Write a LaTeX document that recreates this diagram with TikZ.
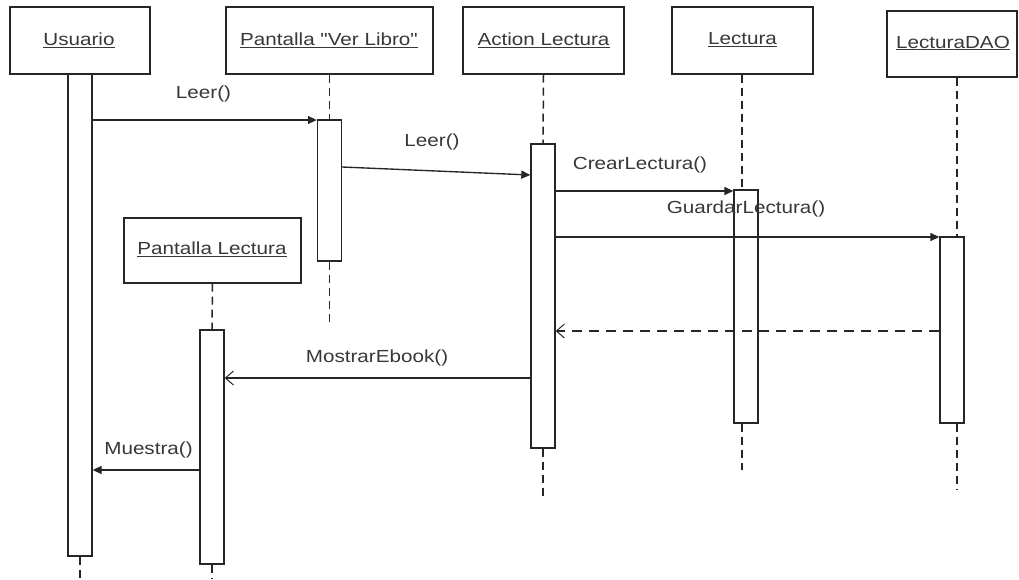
\documentclass[tikz,border=0pt]{standalone}
\usepackage{fontspec}
\setmainfont{Liberation Sans}
\newfontfamily\diagfont[FakeStretch=1.18]{Liberation Sans}
\usetikzlibrary{arrows.meta}
\begin{document}
\begin{tikzpicture}[x=1pt,y=-1pt,
  line width=1.35pt, draw=black!85,
  obj/.style={draw, fill=white, minimum height=67pt, inner sep=0pt},
  act/.style={draw, fill=white, minimum width=24pt, inner sep=0pt},
  life/.style={line width=1.5pt, dash pattern=on 8pt off 5pt},
  msg/.style={-{Triangle[length=9pt,width=8pt]}},
  reply/.style={-{Straight Barb[length=8pt,width=14pt,line width=1pt]}},
  lbl/.style={font=\diagfont\fontsize{17.5}{20}\selectfont, text=black!78, inner sep=0pt}]
\useasboundingbox (0,0) rectangle (1019,579);
\fill[white] (0,0) rectangle (1019,579);

% objects
\node[obj, minimum width=140pt] (usr) at (80,40.5) {};
\node[obj, minimum width=207pt] (pvl) at (329.5,40.5) {};
\node[obj, minimum width=161pt] (act) at (543.5,40.5) {};
\node[obj, minimum width=141pt] (lec) at (742.5,40.5) {};
\node[obj, minimum width=130pt, minimum height=66pt] (dao) at (952,44) {};
\node[obj, minimum width=177pt, minimum height=65pt] (pl) at (212.5,250.5) {};
\node[lbl] (tusr) at (79,40) {\underline{Usuario}};
\node[lbl] (tpvl) at (329,40) {\underline{Pantalla "Ver Libro"}};
\node[lbl] (tact) at (543.5,40) {\underline{Action Lectura}};
\node[lbl] (tlec) at (742.5,40) {\underline{Lectura}};
\node[lbl] (tdao) at (953,43) {\underline{LecturaDAO}};
\node[lbl] (tpl) at (212,249) {\underline{Pantalla Lectura}};

% activation bars
\node[act, minimum height=482pt] (ausr) at (80,315) {};
\node[act, minimum height=141pt] (apvl) at (329.5,190.5) {};
\node[act, minimum height=304pt] (aact) at (543,296) {};
\node[act, minimum height=233pt] (alec) at (746,306.5) {};
\node[act, minimum height=186pt] (adao) at (952,330) {};
\node[act, minimum height=234pt] (apl) at (212,447) {};

% lifelines
\coordinate (eusr) at (80,579);
\coordinate (epvl) at (329.5,322);
\coordinate (eact) at (543,498);
\coordinate (elec) at (742,470);
\coordinate (edao) at (957,490);
\coordinate (epl) at (212,579);
\draw[life] (ausr.south) -- (eusr);
\draw[life] (pvl.south) -- (apvl.north);
\draw[life] (apvl.south) -- (epvl);
\draw[life] (act.south) -- (aact.north);
\draw[life] (aact.south) -- (eact);
\draw[life] ([xshift=-0.5pt]lec.south) -- ([xshift=-4pt]alec.north);
\draw[life] ([xshift=-4pt]alec.south) -- (elec);
\draw[life] ([xshift=5pt]dao.south) -- ([xshift=5pt]adao.north);
\draw[life] ([xshift=5pt]adao.south) -- (edao);
\draw[life] (pl.south) -- (apl.north);
\draw[life] (apl.south) -- (epl);

% messages
\draw[msg] (ausr.east |- 0,120) -- (apvl.west |- 0,120);
\draw[msg] (apvl.east |- 0,167) -- (aact.west |- 0,175);
\draw[msg] (aact.east |- 0,191) -- (alec.west |- 0,191);
\draw[msg] (aact.east |- 0,237) -- (adao.west |- 0,237);
\draw[reply, dash pattern=on 10pt off 7pt] (adao.west |- 0,331) -- (aact.east |- 0,331);
\draw[reply] (aact.west |- 0,378) -- (apl.east |- 0,378);
\draw[msg] (apl.west |- 0,470) -- (ausr.east |- 0,470);

% message labels
\node[lbl] (m1) at (203.5,94) {Leer()};
\node[lbl] (m2) at (432,142) {Leer()};
\node[lbl] (m3) at (640,165) {CrearLectura()};
\node[lbl] (m4) at (746,209) {GuardarLectura()};
\node[lbl] (m5) at (377,358) {MostrarEbook()};
\node[lbl] (m6) at (148.5,450) {Muestra()};
\end{tikzpicture}
\end{document}
